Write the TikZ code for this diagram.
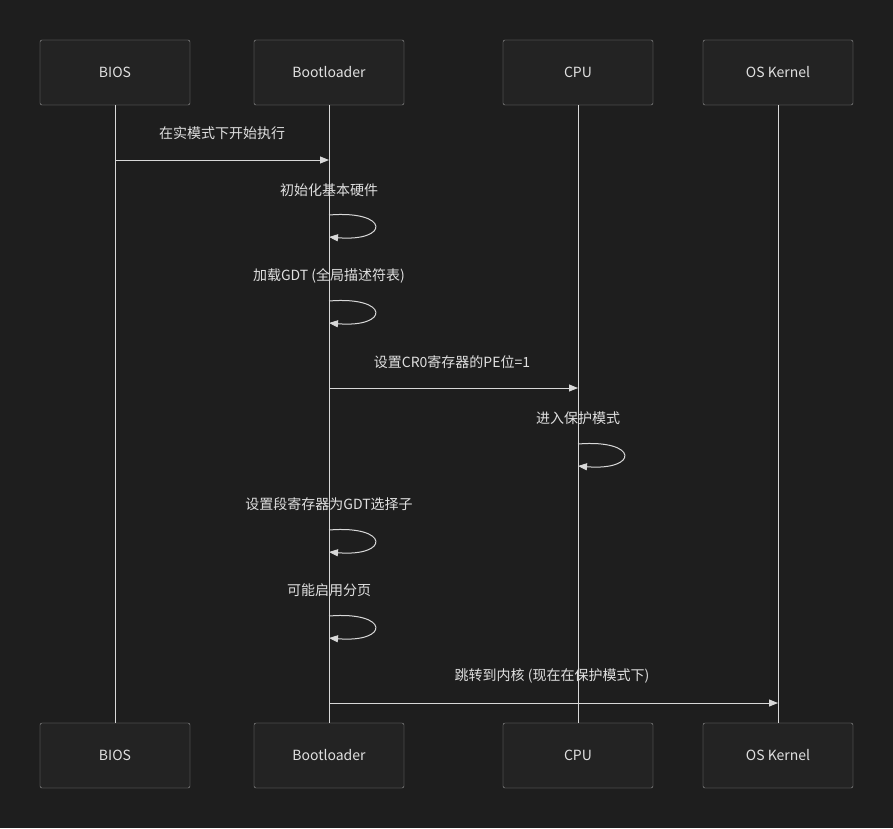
\documentclass[tikz,border=0pt]{standalone}
\usepackage{fontspec}
\setmainfont{Noto Sans CJK SC}
\usetikzlibrary{arrows.meta}
\definecolor{bg}{HTML}{1E1E1E}
\definecolor{boxf}{HTML}{232323}
\definecolor{boxd}{HTML}{9A9A9A}
\definecolor{txt}{HTML}{E0E0E0}
\definecolor{ln}{HTML}{D8D8D8}
\begin{document}
\begin{tikzpicture}[x=1pt,y=-1pt,
  actor/.style={draw=boxd,fill=boxf,rounded corners=2pt,minimum width=150pt,minimum height=65pt,inner sep=0pt,text=txt,font=\fontsize{14}{16}\selectfont},
  msg/.style={text=txt,font=\fontsize{14}{16}\selectfont},
  life/.style={ln,line width=1pt},
  arr/.style={ln,line width=1pt,-{Triangle[length=9pt,width=7pt]}}]
\fill[bg] (0,0) rectangle (893,828);
\useasboundingbox (0,0) rectangle (893,828);
\foreach \n/\t/\x in {a/BIOS/115,b/Bootloader/329,c/CPU/578,d/OS Kernel/778}{
  \node[actor] (\n t) at (\x,72.5) {\t};
  \node[actor] (\n b) at (\x,755.5) {\t};
  \draw[life] (\n t.south) -- (\n b.north);
}
% messages
\coordinate (m1a) at (115,160); \coordinate (m1b) at (329,160);
\draw[arr] (m1a) -- (m1b);
\node[msg] (l1) at (222,133) {在实模式下开始执行};
\node[msg] (l2) at (329,190) {初始化基本硬件};
\coordinate (s2a) at (329,215); \coordinate (s2b) at (329,237);
\draw[arr] (s2a) .. controls (390,210) and (390,242) .. (s2b);
\node[msg] (l3) at (329,276) {加载GDT (全局描述符表)};
\coordinate (s3a) at (329,301); \coordinate (s3b) at (329,323);
\draw[arr] (s3a) .. controls (390,296) and (390,328) .. (s3b);
\node[msg] (l4) at (452,362) {设置CR0寄存器的PE位=1};
\coordinate (m4a) at (329,388); \coordinate (m4b) at (578,388);
\draw[arr] (m4a) -- (m4b);
\node[msg] (l5) at (578,418) {进入保护模式};
\coordinate (s5a) at (578,444); \coordinate (s5b) at (578,466);
\draw[arr] (s5a) .. controls (639,439) and (639,471) .. (s5b);
\node[msg] (l6) at (329,504) {设置段寄存器为GDT选择子};
\coordinate (s6a) at (329,530); \coordinate (s6b) at (329,552);
\draw[arr] (s6a) .. controls (390,525) and (390,557) .. (s6b);
\node[msg] (l7) at (329,590) {可能启用分页};
\coordinate (s7a) at (329,616); \coordinate (s7b) at (329,638);
\draw[arr] (s7a) .. controls (390,611) and (390,643) .. (s7b);
\node[msg] (l8) at (552,676) {跳转到内核 (现在在保护模式下)};
\coordinate (m8a) at (329,703); \coordinate (m8b) at (778,703);
\draw[arr] (m8a) -- (m8b);
\end{tikzpicture}
\end{document}
